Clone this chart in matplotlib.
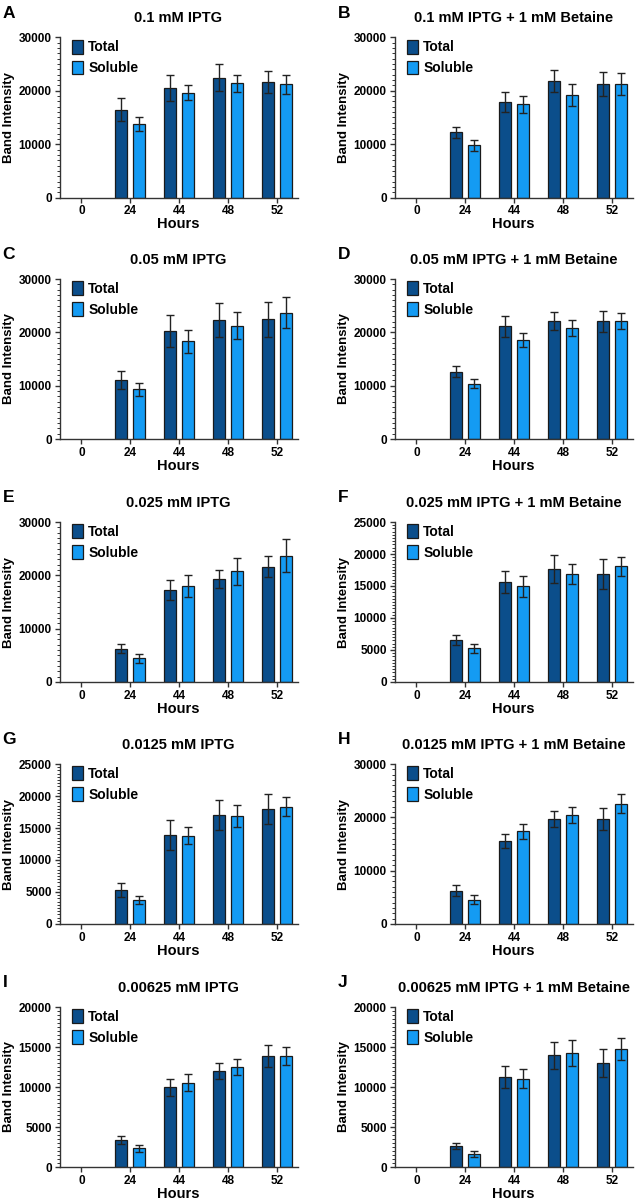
import numpy as np
import matplotlib
matplotlib.use("Agg")
import matplotlib.pyplot as plt
from matplotlib.ticker import MultipleLocator

plt.rcParams['font.family'] = ['Liberation Sans', 'DejaVu Sans']
plt.rcParams['font.weight'] = 'bold'

# Time points (hours) shown on each x axis
hours = ["0", "24", "44", "48", "52"]

# Panel titles and letters
letters = ["A", "B", "C", "D", "E", "F", "G", "H", "I", "J"]
titles = ["0.1 mM IPTG", "0.1 mM IPTG + 1 mM Betaine",
          "0.05 mM IPTG", "0.05 mM IPTG + 1 mM Betaine",
          "0.025 mM IPTG", "0.025 mM IPTG + 1 mM Betaine",
          "0.0125 mM IPTG", "0.0125 mM IPTG + 1 mM Betaine",
          "0.00625 mM IPTG", "0.00625 mM IPTG + 1 mM Betaine"]
ymax = [30000, 30000, 30000, 30000, 30000, 25000, 25000, 30000, 20000, 20000]
ystep = [10000, 10000, 10000, 10000, 10000, 5000, 5000, 10000, 5000, 5000]
yminor = [1000, 1000, 1000, 1000, 1000, 500, 500, 1000, 500, 500]

# Band intensity means (Total / Soluble) per panel, hours 0,24,44,48,52
total = [
    [0, 16450, 20500, 22450, 21650],
    [0, 12200, 17900, 21800, 21200],
    [0, 11000, 20250, 22300, 22450],
    [0, 12650, 21150, 22150, 22100],
    [0, 6250, 17300, 19300, 21600],
    [0, 6600, 15600, 17650, 16850],
    [0, 5380, 13900, 17050, 18000],
    [0, 6250, 15550, 19750, 19600],
    [0, 3330, 9950, 12000, 13900],
    [0, 2630, 11250, 13950, 13050],
]
soluble = [
    [0, 13750, 19650, 21400, 21200],
    [0, 9800, 17500, 19250, 21250],
    [0, 9300, 18300, 21250, 23700],
    [0, 10350, 18550, 20800, 22100],
    [0, 4450, 18000, 20750, 23700],
    [0, 5250, 14950, 16850, 18100],
    [0, 3700, 13800, 16800, 18350],
    [0, 4550, 17350, 20500, 22550],
    [0, 2330, 10550, 12500, 13900],
    [0, 1670, 11050, 14250, 14750],
]
# Error bar half-lengths (SD)
total_err = [
    [0, 2200, 2400, 2500, 2000],
    [0, 1060, 1880, 2050, 2250],
    [0, 1700, 3000, 3250, 3250],
    [0, 1060, 1950, 1700, 1950],
    [0, 800, 1880, 1630, 2000],
    [0, 790, 1680, 2150, 2360],
    [0, 1100, 2300, 2400, 2350],
    [0, 1000, 1250, 1500, 2060],
    [0, 500, 1040, 1000, 1410],
    [0, 380, 1340, 1710, 1750],
]
soluble_err = [
    [0, 1300, 1400, 1570, 1800],
    [0, 1060, 1600, 2050, 2100],
    [0, 1200, 2200, 2560, 2900],
    [0, 880, 1300, 1500, 1560],
    [0, 800, 2000, 2500, 3070],
    [0, 735, 1630, 1520, 1470],
    [0, 630, 1360, 1720, 1460],
    [0, 870, 1370, 1500, 1750],
    [0, 460, 1080, 1040, 1160],
    [0, 380, 1210, 1630, 1340],
]

total_color = "#0B4E8B"
soluble_color = "#149BF3"

W, H = 638, 1199
fig = plt.figure(figsize=(W / 100, H / 100), dpi=100)

lefts = [59.5, 394.5]
width_px = 238
tops = [37.5, 279, 522, 764, 1007]
height_px = 160

x = np.arange(len(hours))
bw = 0.245
off = 0.185


def blank_zero(vals):
    # zero bars are not drawn at all in the original
    a = np.array(vals, dtype=float)
    return np.where(a == 0, np.nan, a)


for i in range(10):
    r, c = divmod(i, 2)
    ax = fig.add_axes([lefts[c] / W, 1 - (tops[r] + height_px) / H,
                       width_px / W, height_px / H])
    ekw = dict(ecolor="#222222", elinewidth=1.0, capsize=3.2, capthick=1.0)
    ax.bar(x - off, blank_zero(total[i]), bw, yerr=blank_zero(total_err[i]),
           color=total_color, edgecolor="#1a1a1a", linewidth=0.9,
           label="Total", error_kw=ekw)
    ax.bar(x + off, blank_zero(soluble[i]), bw, yerr=blank_zero(soluble_err[i]),
           color=soluble_color, edgecolor="#1a1a1a", linewidth=0.9,
           label="Soluble", error_kw=ekw)
    ax.set_xlim(-0.45, 4.42)
    ax.set_ylim(0, ymax[i])
    ax.yaxis.set_major_locator(MultipleLocator(ystep[i]))
    ax.yaxis.set_minor_locator(MultipleLocator(yminor[i]))
    ax.set_xticks(x)
    ax.set_xticklabels(hours)
    for s in ["top", "right"]:
        ax.spines[s].set_visible(False)
    for s in ["left", "bottom"]:
        ax.spines[s].set_linewidth(1.0)
        ax.spines[s].set_color("#333333")
    ax.tick_params(axis="both", labelsize=8.5, width=1.0, length=3.5, colors="#333333",
                   labelcolor="black", pad=2)
    ax.tick_params(axis="y", which="minor", length=2, width=0.7, colors="#333333")
    ax.set_xlabel("Hours", fontsize=10.5, fontweight="bold", labelpad=0)
    ax.set_ylabel("Band Intensity", fontsize=9.5, fontweight="bold", labelpad=3)
    ax.set_title(titles[i], fontsize=10.5, fontweight="bold", pad=11)
    leg = ax.legend(loc="upper left", bbox_to_anchor=(0.03, 1.02), frameon=False,
                    fontsize=10, handlelength=0.8, handleheight=1.15,
                    handletextpad=0.35, labelspacing=0.45, borderaxespad=0)
    for t in leg.get_texts():
        t.set_fontweight("bold")
    # panel letter
    fig.text((lefts[c] - 57) / W, 1 - (tops[r] - 32) / H, letters[i],
             fontsize=12.5, fontweight="bold", ha="left", va="top")

fig.savefig("out.png", dpi=100)
